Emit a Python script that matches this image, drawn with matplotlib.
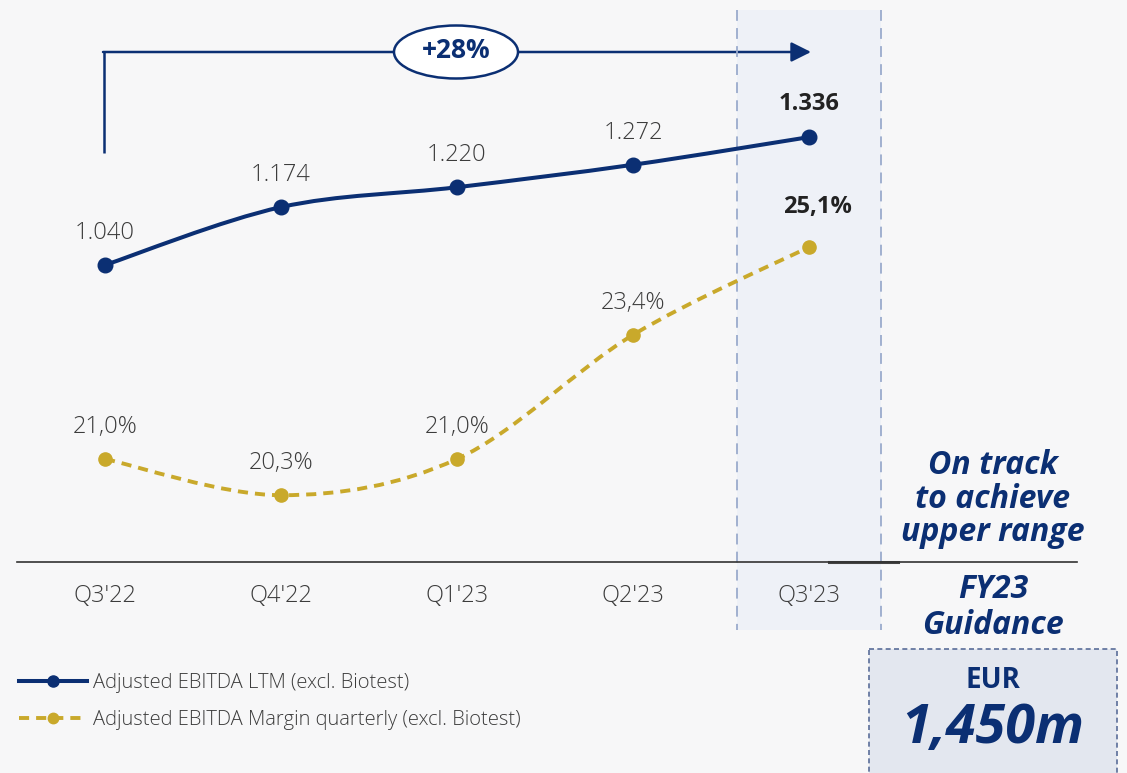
import numpy as np
import matplotlib.pyplot as plt
from matplotlib.path import Path
from matplotlib.patches import PathPatch, Rectangle, Ellipse, FancyArrowPatch
from matplotlib.lines import Line2D

# Data
quarters = ["Q3'22", "Q4'22", "Q1'23", "Q2'23", "Q3'23"]
ebitda_ltm = [1.040, 1.174, 1.220, 1.272, 1.336]
ebitda_labels = ["1.040", "1.174", "1.220", "1.272", "1.336"]
margin = [21.0, 20.3, 21.0, 23.4, 25.1]
margin_labels = ["21,0%", "20,3%", "21,0%", "23,4%", "25,1%"]
growth_label = "+28%"
legend_labels = ["Adjusted EBITDA LTM (excl. Biotest)",
                 "Adjusted EBITDA Margin quarterly (excl. Biotest)"]

navy = '#0b2f73'
gold = '#c9a92b'
grey_txt = '#3c3c3c'
W, H = 1127, 773

plt.rcParams['font.family'] = ['Open Sans', 'DejaVu Sans']


def smooth_path(xs, ys):
    # Excel-style smoothed line: Bezier segments through the data points
    pts = list(zip(xs, ys))
    verts = [pts[0]]
    codes = [Path.MOVETO]
    for i in range(len(pts) - 1):
        p0 = pts[i - 1] if i > 0 else pts[i]
        p1 = pts[i]
        p2 = pts[i + 1]
        p3 = pts[i + 2] if i + 2 < len(pts) else pts[i + 1]
        c1 = (p1[0] + (p2[0] - p0[0]) / 6, p1[1] + (p2[1] - p0[1]) / 6)
        c2 = (p2[0] - (p3[0] - p1[0]) / 6, p2[1] - (p3[1] - p1[1]) / 6)
        verts += [c1, c2, p2]
        codes += [Path.CURVE4] * 3
    return Path(verts, codes)


fig = plt.figure(figsize=(W / 100, H / 100), dpi=100)
fig.patch.set_facecolor('#f7f7f8')

# background axes in pixel coordinates for decorations
bg = fig.add_axes([0, 0, 1, 1], zorder=0)
bg.set_xlim(0, W)
bg.set_ylim(H, 0)
bg.axis('off')

# highlighted last quarter column
bg.add_patch(Rectangle((737, 10), 144, 620, facecolor='#eef1f7', edgecolor='none'))
for xv in (737, 881):
    bg.plot([xv, xv], [10, 630], color='#9aabcc', lw=1.3, ls=(0, (6, 4)))

# growth arrow
bg.plot([104, 104], [153, 52], color=navy, lw=1.8, solid_capstyle='butt')
bg.add_patch(FancyArrowPatch((103, 52), (811, 52), arrowstyle='-|>,head_length=12,head_width=6',
                             color=navy, lw=1.8, mutation_scale=1, shrinkA=0, shrinkB=0))
bg.add_patch(Ellipse((456, 52), 124, 53, facecolor='white', edgecolor=navy, lw=1.8, zorder=5))
bg.text(456, 51, growth_label, ha='center', va='center', fontsize=19, fontweight='bold',
        color=navy, zorder=6)

# small dark segment on baseline
bg.plot([829, 898], [562, 562], color='#444444', lw=2.2)

# right side texts
bg.text(993, 499, "On track\nto achieve\nupper range", ha='center', va='center',
        fontsize=23, fontweight='bold', fontstyle='italic', color=navy, linespacing=1.03)
bg.text(993, 607, "FY23\nGuidance", ha='center', va='center',
        fontsize=23, fontweight='bold', fontstyle='italic', color=navy, linespacing=1.12)
bg.add_patch(Rectangle((869, 649), 248, 130, facecolor='#e3e7ef', edgecolor='#5a6d99',
                       lw=1.2, ls=(0, (3, 2))))
bg.text(993, 681, "EUR", ha='center', va='center', fontsize=20, fontweight='bold', color=navy)
bg.text(993, 729, "1,450m", ha='center', va='center', fontsize=39, fontweight='bold',
        fontstyle='italic', color=navy)

# data axes
left, right, top, base = 17, 1077, 0, 562
rect = [left / W, (H - base) / H, (right - left) / W, (base - top) / H]
ax = fig.add_axes(rect, zorder=2)
ax.patch.set_visible(False)
x = np.arange(len(quarters))
ax.set_xlim(-0.5, 5.523)
ax.set_ylim(0.3525, 1.6534)
for s in ['top', 'right', 'left']:
    ax.spines[s].set_visible(False)
ax.spines['bottom'].set_color('#333333')
ax.spines['bottom'].set_linewidth(1.2)
ax.set_yticks([])
ax.set_xticks(x)
ax.set_xticklabels(quarters, fontsize=17, color=grey_txt, fontweight='light')
ax.tick_params(axis='x', length=0, pad=16)

ax2 = ax.twinx()
ax2.set_zorder(3)
ax2.patch.set_visible(False)
ax2.set_ylim(19.008, 29.878)
ax2.axis('off')

ax.add_patch(PathPatch(smooth_path(x, ebitda_ltm), fill=False, edgecolor=navy, lw=2.9,
                       capstyle='round'))
ax.plot(x, ebitda_ltm, 'o', color=navy, markersize=10.5)
ax2.add_patch(PathPatch(smooth_path(x, margin), fill=False, edgecolor=gold, lw=2.8,
                        linestyle=(0, (2.6, 1.8))))
ax2.plot(x, margin, 'o', color=gold, markersize=9.5)

for i, (v, lab) in enumerate(zip(ebitda_ltm, ebitda_labels)):
    last = i == len(x) - 1
    ax.annotate(lab, (x[i], v), xytext=(0, 24 if last else 23), textcoords='offset points',
                ha='center', va='center', fontsize=17, color='#222222' if last else grey_txt,
                fontweight='bold' if last else 'light')
for i, (v, lab) in enumerate(zip(margin, margin_labels)):
    last = i == len(x) - 1
    ax2.annotate(lab, (x[i], v), xytext=(6 if last else 0, 29 if last else 23),
                 textcoords='offset points', ha='center', va='center', fontsize=17,
                 color='#222222' if last else grey_txt, fontweight='bold' if last else 'light')

# legend
handles = [Line2D([], [], color=navy, lw=2.9, marker='o', markersize=8),
           Line2D([], [], color=gold, lw=2.8, ls=(0, (2.6, 1.8)), marker='o', markersize=7.5)]
leg = fig.legend(handles, legend_labels, loc='upper left', bbox_to_anchor=(0.0005, 0.153),
                 frameon=False, fontsize=14.5, handlelength=3.4, handletextpad=0.3,
                 labelspacing=0.85, numpoints=1, labelcolor=grey_txt)
for t in leg.get_texts():
    t.set_fontweight('light')

fig.savefig('out.png', dpi=100, facecolor=fig.get_facecolor())
